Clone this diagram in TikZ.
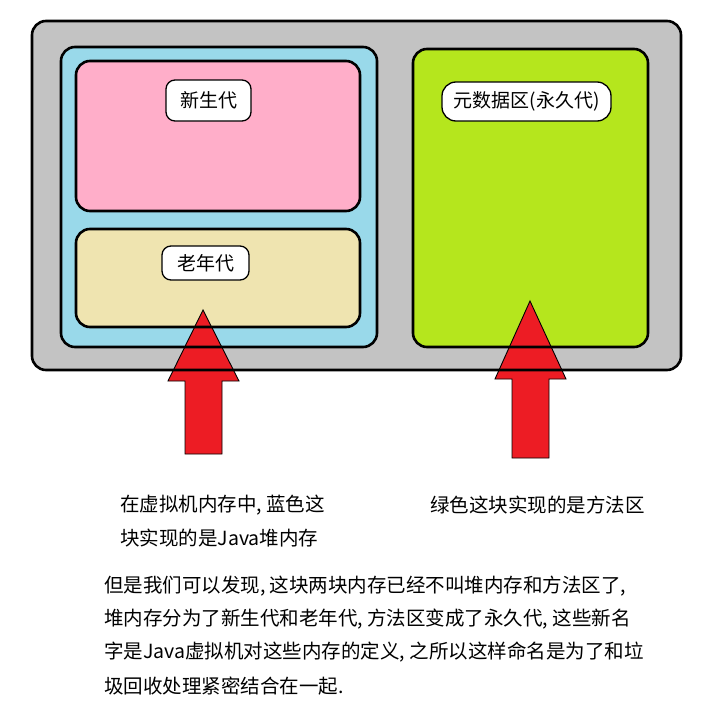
\documentclass[tikz,border=0pt]{standalone}
\usepackage{fontspec}
\newfontfamily\cjk{Noto Sans CJK SC}
\definecolor{boxgray}{HTML}{C3C3C3}
\definecolor{boxblue}{HTML}{99D9EA}
\definecolor{boxpink}{HTML}{FFAEC9}
\definecolor{boxbeige}{HTML}{EFE4B0}
\definecolor{boxgreen}{HTML}{B5E61D}
\definecolor{arrowred}{HTML}{ED1C24}
\begin{document}
\begin{tikzpicture}[x=1pt,y=-1pt,
  region/.style={rounded corners=14pt},
  border/.style={draw=black,line width=2.6pt,rounded corners=14pt},
  tag/.style={draw=black,fill=white,line width=1.3pt,rounded corners=9pt,inner sep=0pt,font=\cjk\fontsize{19}{22}\selectfont},
  bigarrow/.style={fill=arrowred,draw=black,line width=0.9pt},
  txt/.style={anchor=west,inner sep=0pt,font=\cjk\fontsize{19.5}{23}\selectfont}]
\useasboundingbox[fill=white] (0,0) rectangle (724,723);
% fills
\fill[boxgray,region] (32,21) rectangle (681,370);
\fill[boxblue,region] (61,47) rectangle (377,347);
\fill[boxpink,region] (76,61) rectangle (360,211);
\fill[boxbeige,region] (76,229) rectangle (360,327);
\fill[boxgreen,region] (413,49) rectangle (648,347);
% arrows
\draw[bigarrow] (203,310) -- (239,381) -- (222,381) -- (222,454) -- (185,454) -- (185,381) -- (168,381) -- cycle;
\draw[bigarrow] (530,301) -- (566,379) -- (549,379) -- (549,458) -- (512,458) -- (512,379) -- (495,379) -- cycle;
% borders on top
\draw[border] (32,21) rectangle (681,370);
\draw[border] (61,47) rectangle (377,347);
\draw[border] (76,61) rectangle (360,211);
\draw[border] (76,229) rectangle (360,327);
\draw[border] (413,49) rectangle (648,347);
% tags
\node[tag,minimum width=85pt,minimum height=41pt] (young) at (208.5,100.5) {新生代};
\node[tag,minimum width=87pt,minimum height=34pt] (old) at (205.5,263) {老年代};
\node[tag,minimum width=169pt,minimum height=39pt,rounded corners=14pt] (meta) at (526.5,101.5) {元数据区(永久代)};
% captions
\node[txt] (c1) at (120,505) {在虚拟机内存中, 蓝色这};
\node[txt] (c2) at (120,538) {块实现的是Java堆内存};
\node[txt] (c3) at (430,505) {绿色这块实现的是方法区};
\node[txt] (p1) at (104,586) {但是我们可以发现, 这块两块内存已经不叫堆内存和方法区了,};
\node[txt] (p2) at (104,619) {堆内存分为了新生代和老年代, 方法区变成了永久代, 这些新名};
\node[txt] (p3) at (104,652) {字是Java虚拟机对这些内存的定义, 之所以这样命名是为了和垃};
\node[txt] (p4) at (104,686) {圾回收处理紧密结合在一起.};
\end{tikzpicture}
\end{document}
